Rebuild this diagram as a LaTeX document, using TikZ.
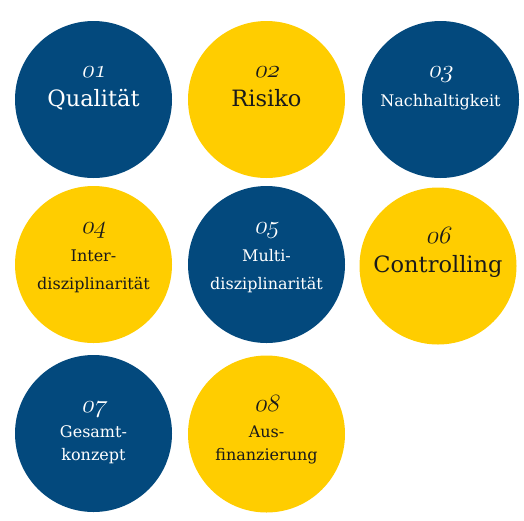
\documentclass[tikz,border=0pt]{standalone}
\usepackage{fontspec}
\setmainfont{DejaVu Serif}
\usetikzlibrary{positioning, calc}

\definecolor{uniblue}{RGB}{3,73,125}
\definecolor{unigold}{RGB}{255,205,0}
\definecolor{inkdark}{RGB}{26,26,26}
\newcommand\numfont{\fontencoding{OML}\fontfamily{cmm}\fontseries{m}\fontshape{it}\fontsize{26}{26}\selectfont}

\begin{document}
\begin{tikzpicture}[
    x=1pt, y=-1pt,
    disc/.style  = {circle, minimum size=157pt, inner sep=0pt},
    bdisc/.style = {disc, fill=uniblue},
    gdisc/.style = {disc, fill=unigold},
    num/.style   = {anchor=base, inner sep=0pt, font=\numfont, xslant=0.22, transform shape},
    big/.style   = {anchor=base, inner sep=0pt, font=\fontsize{22.5}{26}\selectfont},
    small/.style = {anchor=base, inner sep=0pt, font=\fontsize{16}{20}\selectfont},
    onblue/.style = {white},
    ongold/.style = {inkdark}
  ]
  \useasboundingbox (0,0) rectangle (524,520);

  % --- discs ---
  \node[bdisc] (c1) at (93.5,99.5)  {};
  \node[gdisc] (c2) at (266.5,99.5) {};
  \node[bdisc] (c3) at (440.5,99.5) {};
  \node[gdisc] (c4) at (93.5,264.5) {};
  \node[bdisc] (c5) at (266.5,264.5) {};
  \node[gdisc] (c6) at (438,266)   {};
  \node[bdisc] (c7) at (93.5,433.5) {};
  \node[gdisc] (c8) at (266.5,434)  {};

  % --- row 1 ---
  \node[num, onblue]   (n1) at ($(c1)+(0,-22.5)$) {01};
  \node[big, onblue]   (t1) at ($(c1)+(0,6.5)$)   {Qualität};
  \node[num, ongold]   (n2) at ($(c2)+(0,-22.5)$) {02};
  \node[big, ongold]   (t2) at ($(c2)+(0,6.5)$)   {Risiko};
  \node[num, onblue]   (n3) at ($(c3)+(0,-22.5)$) {03};
  \node[small, onblue] (t3) at ($(c3)+(0,6.5)$)   {Nachhaltigkeit};

  % --- row 2 ---
  \node[num, ongold]   (n4)  at ($(c4)+(0,-31.5)$) {04};
  \node[small, ongold] (t4a) at ($(c4)+(0,-3)$)    {Inter-};
  \node[small, ongold] (t4b) at ($(c4)+(0,24.5)$)  {disziplinarität};
  \node[num, onblue]   (n5)  at ($(c5)+(0,-31.5)$) {05};
  \node[small, onblue] (t5a) at ($(c5)+(0,-3.5)$)  {Multi-};
  \node[small, onblue] (t5b) at ($(c5)+(0,24.5)$)  {disziplinarität};
  \node[num, ongold]   (n6)  at ($(c6)+(0,-23)$)   {06};
  \node[big, ongold]   (t6)  at ($(c6)+(0,6)$)     {Controlling};

  % --- row 3 ---
  \node[num, onblue]   (n7)  at ($(c7)+(0,-21.5)$) {07};
  \node[small, onblue] (t7a) at ($(c7)+(0,3.5)$)   {Gesamt-};
  \node[small, onblue] (t7b) at ($(c7)+(0,26.5)$)  {konzept};
  \node[num, ongold]   (n8)  at ($(c8)+(0,-23)$)   {08};
  \node[small, ongold] (t8a) at ($(c8)+(0,3)$)     {Aus-};
  \node[small, ongold] (t8b) at ($(c8)+(0,26)$)    {finanzierung};

\end{tikzpicture}
\end{document}
